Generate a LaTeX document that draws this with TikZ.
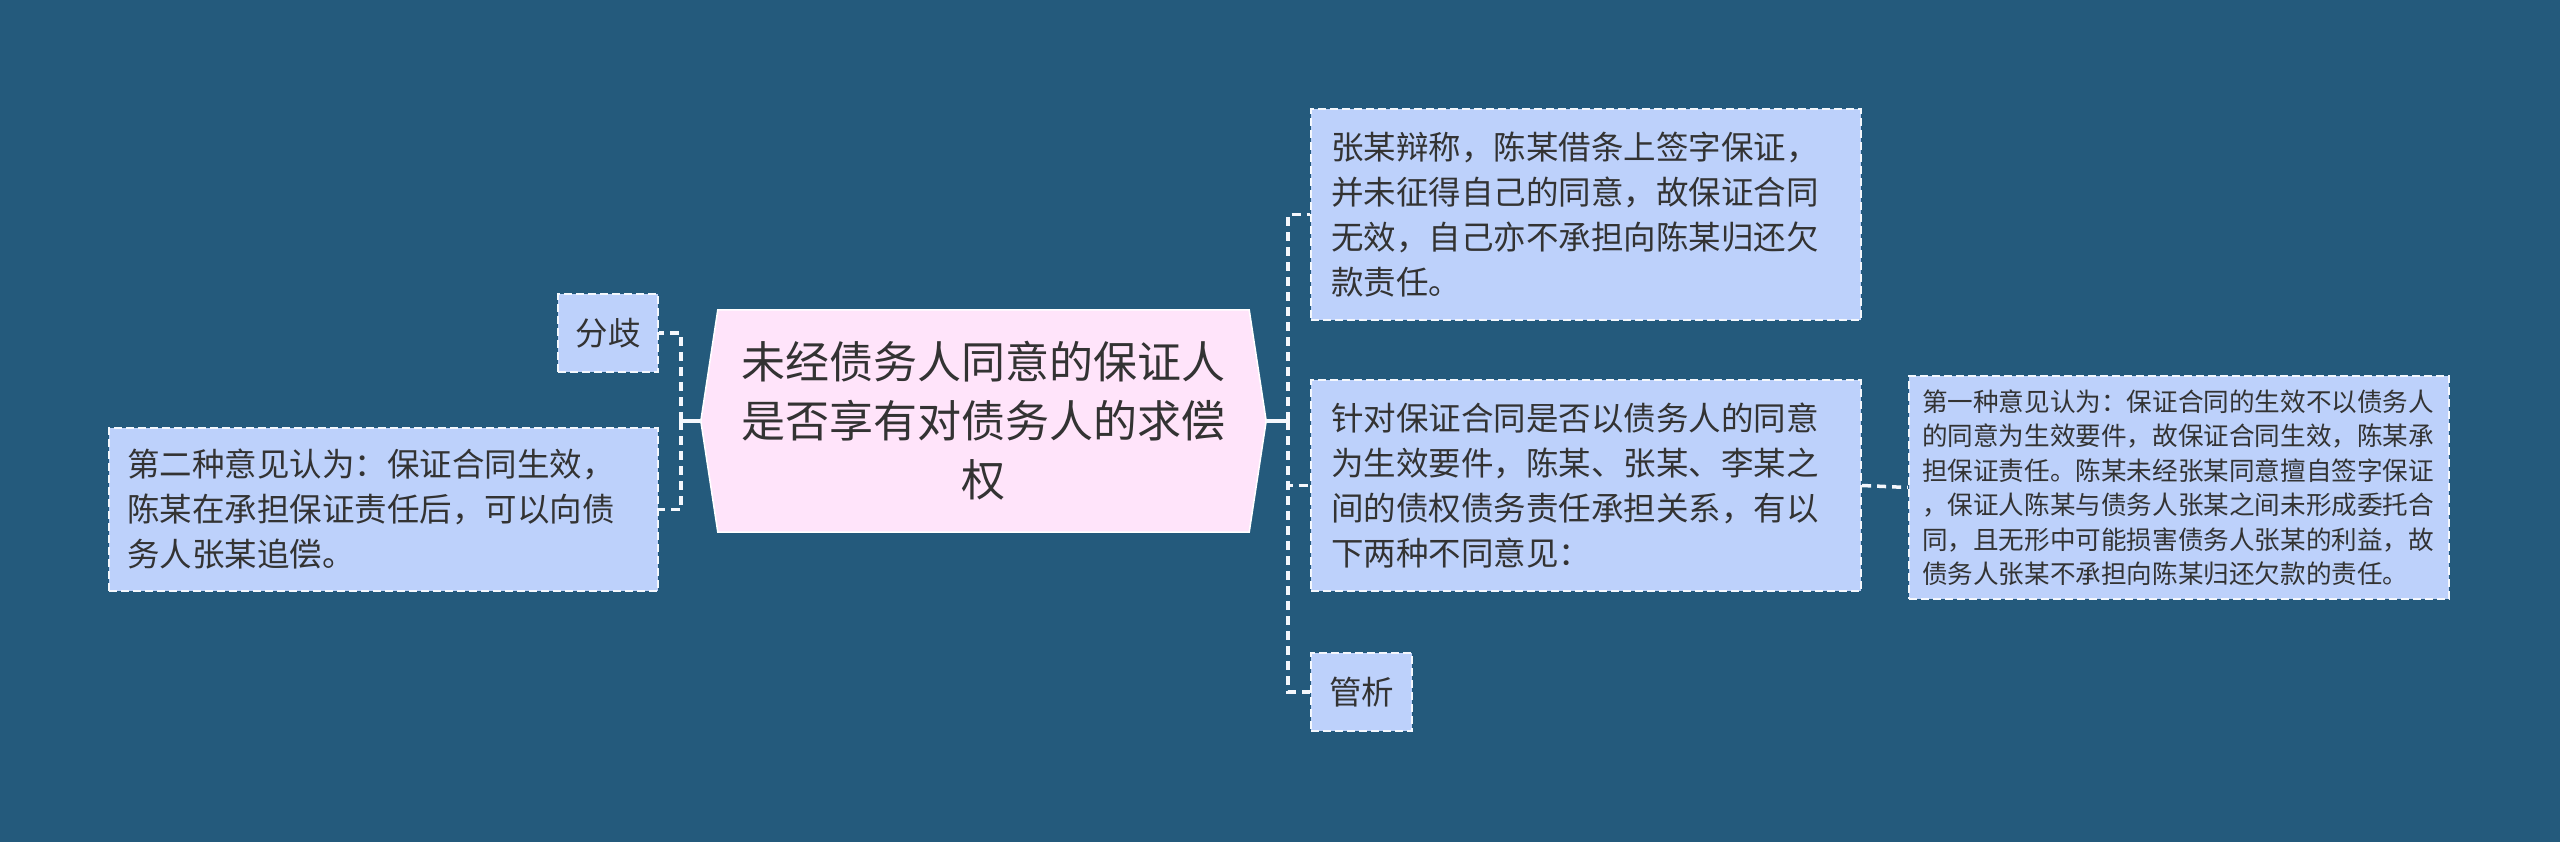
\documentclass[tikz,border=0pt]{standalone}
\usepackage{fontspec}
\setmainfont{Noto Sans CJK SC}
\usetikzlibrary{calc}
\definecolor{bg}{HTML}{245A7C}
\definecolor{boxfill}{HTML}{BDD1FB}
\definecolor{cfill}{HTML}{FFE4FA}
\definecolor{txt}{HTML}{333333}
\definecolor{ln}{HTML}{F4F7FC}
\pgfdeclarelayer{bgl}
\pgfsetlayers{bgl,main}
\begin{document}
\begin{tikzpicture}[x=1pt,y=-1pt,
  box/.style={draw=ln, fill=boxfill, dash pattern=on 8pt off 4pt, line width=2.2pt, text=txt, align=left, inner sep=0pt, font=\fontsize{32.5}{45}\selectfont},
  conn/.style={draw=ln, line width=3.5pt, dash pattern=on 9pt off 6pt},
  trunk/.style={draw=ln, line width=3.5pt}
]
\begin{pgfonlayer}{bgl}
\fill[bg] (0,0) rectangle (2560,842);
\end{pgfonlayer}
\useasboundingbox (0,0) rectangle (2560,842);

% central node
\node[minimum width=531pt, minimum height=222pt, align=center, text=txt, inner sep=0pt,
      font=\fontsize{44}{59}\selectfont] (c) at (983.5,421)
      {未经债务人同意的保证人\\是否享有对债务人的求偿\\权};
\begin{pgfonlayer}{bgl}
\filldraw[fill=cfill, draw=white, line width=1.5pt]
  (c.north west) -- (c.north east) -- ($(c.east)+(17,0)$) -- (c.south east)
  -- (c.south west) -- ($(c.west)+(-17,0)$) -- cycle;
\end{pgfonlayer}

% left nodes
\node[box, minimum width=100pt, minimum height=78pt, align=center] (fenqi) at (608,333) {分歧};
\node[box, minimum width=549pt, minimum height=163pt, text width=513pt] (second) at (383.5,509.5)
  {第二种意见认为：保证合同生效，\\陈某在承担保证责任后，可以向债\\务人张某追偿。};

% right nodes
\node[box, minimum width=550pt, minimum height=211pt, text width=510pt] (zhang) at (1586,214.5)
  {张某辩称，陈某借条上签字保证，\\并未征得自己的同意，故保证合同\\无效，自己亦不承担向陈某归还欠\\款责任。};
\node[box, minimum width=550pt, minimum height=211pt, text width=510pt] (zhendui) at (1586,485.5)
  {针对保证合同是否以债务人的同意\\为生效要件，陈某、张某、李某之\\间的债权债务责任承担关系，有以\\下两种不同意见：};
\node[box, minimum width=101pt, minimum height=78pt, align=center] (guanxi) at (1361.5,692) {管析};
\node[box, minimum width=540pt, minimum height=223pt, text width=514pt,
      font=\fontsize{25.6}{34.5}\selectfont] (first) at (2179,487.5)
  {第一种意见认为：保证合同的生效不以债务人\\的同意为生效要件，故保证合同生效，陈某承\\担保证责任。陈某未经张某同意擅自签字保证\\，保证人陈某与债务人张某之间未形成委托合\\同，且无形中可能损害债务人张某的利益，故\\债务人张某不承担向陈某归还欠款的责任。};

% connectors
\coordinate (lj) at (681,421);
\coordinate (rj) at (1288,421);
\draw[trunk] ($(c.west)+(-17,0)$) -- (lj);
\draw[conn] (lj) |- (fenqi.east);
\draw[conn] (lj) |- (second.east);
\draw[trunk] ($(c.east)+(17,0)$) -- (rj);
\draw[conn] (rj) |- (zhang.west);
\draw[conn] (rj) |- (zhendui.west);
\draw[conn] (rj) |- (guanxi.west);
\draw[conn] (zhendui.east) -- (first.west);
\end{tikzpicture}
\end{document}
